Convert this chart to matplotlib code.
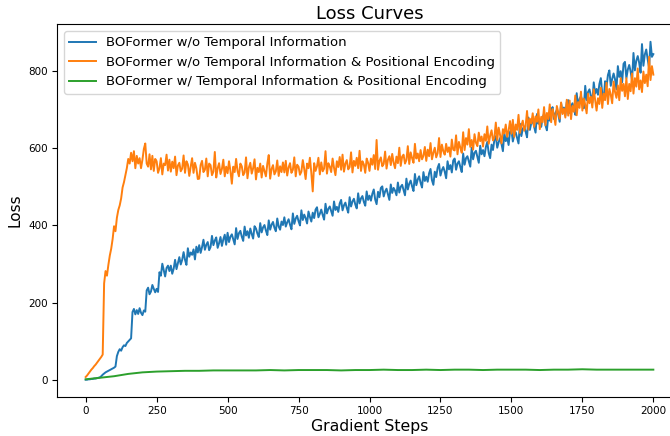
import numpy as np
import matplotlib.pyplot as plt

# loss logged every 5 gradient steps (green every 50)
steps = np.arange(0, 2001, 5)
steps_green = np.arange(0, 2001, 50)

loss_no_temporal = [
    1, 1, 2, 2, 3, 3, 4, 4, 5, 6, 7, 10, 14, 17, 20, 22, 24, 26, 28, 30,
    32, 35, 62, 73, 80, 76, 85, 90, 88, 96, 100, 104, 108, 176, 184, 170, 181, 171, 186, 174,
    168, 180, 177, 232, 239, 222, 229, 246, 236, 227, 236, 228, 279, 270, 301, 284, 268, 290, 296, 282,
    296, 275, 288, 311, 287, 302, 318, 299, 311, 331, 311, 298, 341, 319, 330, 324, 338, 312, 345, 330,
    349, 329, 344, 363, 337, 350, 357, 336, 344, 373, 349, 361, 369, 342, 354, 370, 347, 364, 376, 350,
    381, 357, 371, 377, 364, 351, 393, 365, 380, 386, 371, 360, 397, 374, 385, 368, 392, 378, 366, 398,
    392, 379, 370, 406, 382, 395, 401, 387, 375, 413, 389, 402, 409, 394, 385, 418, 397, 389, 410, 401,
    421, 397, 408, 416, 402, 390, 431, 404, 418, 425, 411, 400, 439, 414, 428, 419, 405, 436, 422, 410,
    433, 419, 441, 447, 421, 430, 441, 427, 415, 456, 431, 443, 449, 437, 425, 462, 440, 448, 435, 457,
    466, 439, 452, 459, 445, 433, 473, 449, 462, 469, 454, 444, 483, 457, 470, 476, 461, 451, 488, 466,
    477, 464, 482, 493, 467, 455, 487, 473, 497, 501, 475, 488, 495, 481, 466, 506, 484, 497, 490, 478,
    511, 485, 500, 505, 491, 478, 521, 493, 508, 516, 501, 489, 533, 504, 519, 527, 510, 498, 538, 515,
    526, 513, 535, 546, 517, 505, 539, 525, 549, 559, 529, 543, 551, 539, 522, 566, 545, 556, 537, 568,
    573, 544, 560, 566, 551, 538, 586, 557, 574, 579, 565, 552, 601, 571, 588, 593, 578, 562, 606, 584,
    595, 579, 603, 616, 587, 574, 609, 595, 622, 631, 601, 615, 626, 611, 592, 639, 618, 629, 608, 642,
    647, 617, 634, 641, 627, 612, 663, 631, 650, 656, 643, 628, 679, 647, 665, 671, 656, 640, 688, 663,
    668, 655, 679, 689, 659, 646, 683, 671, 697, 706, 675, 690, 699, 687, 668, 716, 693, 705, 684, 719,
    724, 691, 708, 716, 704, 686, 742, 706, 727, 734, 722, 703, 761, 724, 745, 752, 735, 717, 770, 741,
    753, 738, 766, 781, 741, 725, 773, 758, 789, 801, 761, 779, 793, 778, 752, 812, 784, 799, 770, 818,
    823, 781, 803, 815, 798, 775, 846, 801, 826, 838, 821, 795, 869, 813, 842, 855, 830, 808, 875, 836,
    843,
]

loss_no_temporal_no_pe = [
    8, 12, 17, 22, 27, 31, 36, 40, 45, 50, 55, 60, 66, 250, 282, 270, 298, 322, 340, 365,
    398, 385, 420, 440, 452, 470, 498, 512, 530, 548, 572, 560, 588, 566, 592, 548, 580, 560, 574, 548,
    570, 598, 612, 560, 552, 584, 545, 580, 541, 572, 566, 536, 548, 574, 532, 560, 556, 583, 542, 570,
    539, 565, 548, 578, 530, 555, 562, 540, 547, 581, 536, 566, 558, 528, 552, 574, 536, 562, 548, 520,
    521, 556, 567, 538, 544, 573, 527, 560, 556, 530, 539, 590, 524, 548, 561, 533, 546, 570, 527, 552,
    535, 566, 541, 508, 552, 538, 572, 541, 527, 560, 553, 530, 537, 576, 522, 550, 562, 534, 548, 571,
    519, 549, 538, 560, 524, 554, 540, 527, 560, 582, 521, 546, 556, 532, 540, 568, 528, 553, 538, 563,
    537, 567, 529, 550, 561, 536, 544, 576, 527, 557, 552, 531, 539, 569, 546, 520, 560, 548, 575, 536,
    488, 561, 541, 553, 575, 532, 563, 540, 547, 592, 534, 561, 552, 538, 573, 549, 530, 566, 551, 577,
    544, 583, 539, 560, 569, 545, 551, 589, 537, 567, 554, 575, 548, 593, 541, 566, 558, 536, 573, 562,
    541, 573, 557, 582, 546, 621, 544, 567, 576, 553, 559, 591, 547, 570, 579, 556, 585, 562, 548, 578,
    561, 601, 554, 578, 583, 560, 569, 605, 559, 589, 574, 562, 611, 573, 586, 566, 595, 571, 580, 603,
    567, 596, 579, 613, 571, 588, 601, 576, 587, 626, 577, 609, 592, 583, 611, 590, 602, 578, 622, 596,
    594, 633, 584, 616, 601, 588, 641, 595, 626, 609, 649, 603, 621, 596, 636, 614, 605, 640, 618, 630,
    604, 636, 619, 656, 611, 632, 646, 620, 627, 666, 621, 653, 634, 612, 649, 638, 661, 629, 645, 670,
    637, 673, 629, 661, 647, 686, 639, 658, 671, 645, 657, 696, 648, 676, 664, 690, 655, 682, 668, 700,
    649, 681, 667, 706, 659, 691, 675, 713, 667, 701, 684, 660, 709, 692, 676, 718, 688, 702, 679, 725,
    684, 723, 675, 709, 694, 736, 685, 719, 704, 746, 697, 728, 712, 690, 741, 716, 733, 705, 752, 724,
    697, 729, 714, 756, 704, 741, 724, 769, 714, 753, 738, 716, 772, 745, 730, 762, 724, 781, 748, 766,
    734, 781, 727, 766, 747, 793, 741, 781, 759, 806, 752, 775, 745, 798, 768, 790, 760, 836, 776, 812,
    790,
]

loss_full = [
    2, 6, 10, 16, 20, 22, 23, 24, 24, 25,
    25, 25, 25, 26, 25, 26, 26, 26, 25, 26,
    26, 27, 26, 26, 27, 26, 27, 27, 26, 27,
    27, 27, 26, 27, 27, 28, 27, 27, 27, 27,
    27,
]

labels = [
    "BOFormer w/o Temporal Information",
    "BOFormer w/o Temporal Information & Positional Encoding",
    "BOFormer w/ Temporal Information & Positional Encoding",
]

fig = plt.figure(figsize=(6.7, 4.36), dpi=100)
ax = fig.add_axes([0.0855, 0.0901, 0.932, 0.854])

ax.plot(steps, loss_no_temporal, color="#1f77b4", lw=1.4, label=labels[0])
ax.plot(steps, loss_no_temporal_no_pe, color="#ff7f0e", lw=1.4, label=labels[1])
ax.plot(steps_green, loss_full, color="#2ca02c", lw=1.4, label=labels[2])

ax.set_xlim(-100, 2100)
ax.set_ylim(-43, 920)
ax.set_xticks(np.arange(0, 2001, 250))
ax.set_yticks(np.arange(0, 801, 200))
ax.tick_params(labelsize=7.5)

ax.set_title("Loss Curves", fontsize=13, pad=4)
ax.set_xlabel("Gradient Steps", fontsize=11.3, labelpad=2)
ax.set_ylabel("Loss", fontsize=11, labelpad=4)
ax.legend(loc="upper left", fontsize=9.5)

fig.savefig("out.png", dpi=100)
